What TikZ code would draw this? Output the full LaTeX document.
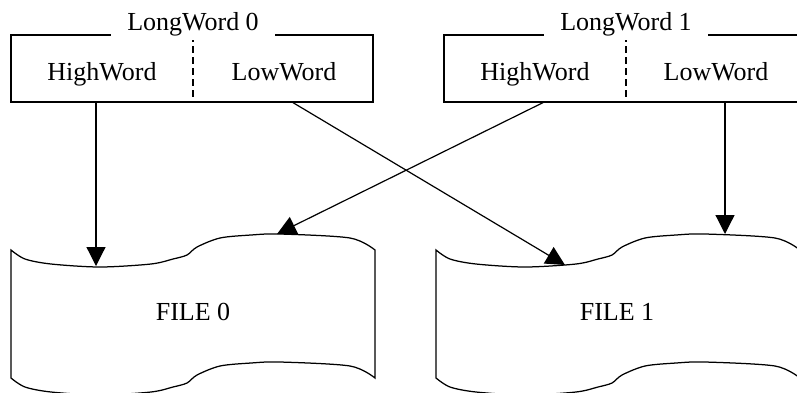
\documentclass[tikz,border=0pt]{standalone}
\usepackage{fontspec}
\setmainfont{Liberation Serif}
\usetikzlibrary{arrows.meta}
\begin{document}
\begin{tikzpicture}[x=1pt,y=-1pt, line width=1.25pt,
  txt/.style={font=\fontsize{26}{31}\selectfont, inner sep=0pt, anchor=base},
  wordbox/.style={draw, minimum width=362pt, minimum height=67pt, inner sep=0pt},
  lbl/.style={txt, fill=white, inner xsep=16pt, inner ysep=4pt},
  divider/.style={dash pattern=on 7pt off 4pt},
  arr/.style={-{Triangle[length=19pt,width=19pt]}, line width=1.2pt},
  fileshape/.pic={
    \draw[fill=white] plot[smooth,tension=0.5] coordinates {(0,0) (14,9) (40,14) (89,17) (140,14) (162,9) (176,5) (186,-3) (209,-12) (240,-15) (269,-16) (339,-12) (364,0)}
      -- plot[smooth,tension=0.5] coordinates {(364,128) (339,116) (269,112) (240,113) (209,116) (186,125) (176,133) (162,137) (140,142) (89,145) (40,142) (14,137) (0,128)} -- cycle;
  }
]
\useasboundingbox (0,0) rectangle (797,392);

% word boxes
\node[wordbox] (box0) at (192,68.5) {};
\node[wordbox] (box1) at (625,68.5) {};
\draw[divider] (193,35) -- (193,102);
\draw[divider] (626,35) -- (626,102);
\node[lbl] (lw0lbl) at (193,30) {LongWord 0};
\node[lbl] (lw1lbl) at (626,30) {LongWord 1};
\node[txt] (hw0) at (102,80) {HighWord};
\node[txt] (lw0) at (284,80) {LowWord};
\node[txt] (hw1) at (535,80) {HighWord};
\node[txt] (lw1) at (716,80) {LowWord};

% files
\pic at (11,250) {fileshape};
\pic at (436,250) {fileshape};
\node[txt] (file0) at (193,320) {FILE 0};
\node[txt] (file1) at (617,320) {FILE 1};
\coordinate (f0a) at (96,266);
\coordinate (f0b) at (277,234);
\coordinate (f1a) at (565,265);
\coordinate (f1b) at (725,234);

% connectors
\draw[arr] ([xshift=-6pt]hw0.center |- box0.south) -- (f0a);
\draw[arr] ([xshift=9pt]lw0.center |- box0.south) -- (f1a);
\draw[arr] ([xshift=8pt]hw1.center |- box1.south) -- (f0b);
\draw[arr] ([xshift=9pt]lw1.center |- box1.south) -- (f1b);
\end{tikzpicture}
\end{document}
